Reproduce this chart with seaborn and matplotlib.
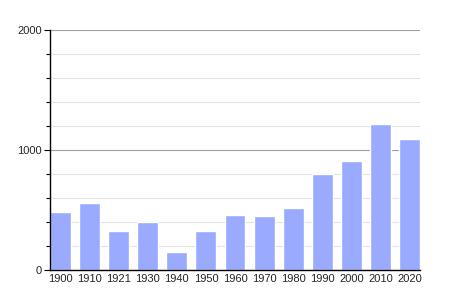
import matplotlib
matplotlib.use("Agg")
import matplotlib.pyplot as plt
import seaborn as sns
import pandas as pd
from matplotlib.ticker import MultipleLocator

years = ["1900", "1910", "1921", "1930", "1940", "1950", "1960", "1970", "1980", "1990", "2000", "2010", "2020"]
population = [483, 558, 325, 403, 150, 325, 458, 450, 517, 800, 908, 1217, 1092]

sns.set_style("white")
plt.rcParams['font.family'] = ['Liberation Sans', 'DejaVu Sans']

df = pd.DataFrame({"year": years, "pop": population})

fig = plt.figure(figsize=(4.5, 3.0), dpi=100)
ax = fig.add_axes([50/450, 30/300, 370/450, 240/300])

sns.barplot(data=df, x="year", y="pop", color="#99aaff", saturation=1, width=0.72, ax=ax)

ax.set_ylim(0, 2000)
ax.set_xlim(-0.36, len(years) - 1 + 0.36)
ax.yaxis.set_major_locator(MultipleLocator(1000))
ax.yaxis.set_minor_locator(MultipleLocator(200))
ax.grid(axis="y", which="major", color="#a0a0a0", linewidth=0.8)
ax.grid(axis="y", which="minor", color="#e2e2e2", linewidth=0.8)
ax.set_axisbelow(True)

for s in ["top", "right"]:
    ax.spines[s].set_visible(False)
for s in ["left", "bottom"]:
    ax.spines[s].set_color("black")
    ax.spines[s].set_linewidth(1.0)

ax.tick_params(axis="y", which="major", length=4, width=0.8, color="black", labelsize=8, left=True, direction="out", pad=2)
ax.tick_params(axis="y", which="minor", length=3, width=0.8, color="black", left=True, direction="out")
ax.tick_params(axis="x", length=0, labelsize=8, pad=3)
ax.set_xlabel("")
ax.set_ylabel("")

fig.savefig("out.png", dpi=100)
